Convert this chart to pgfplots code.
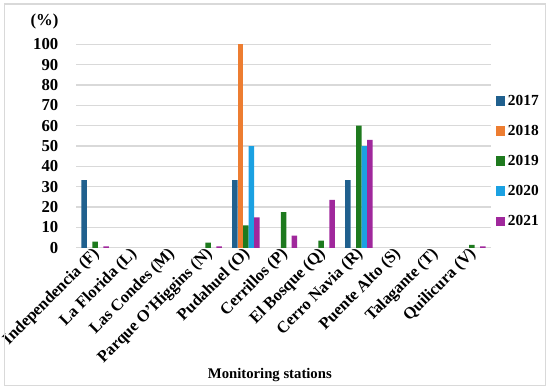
\documentclass[border=0pt]{standalone}
\usepackage{fontspec}
\setmainfont{Liberation Serif}
\usepackage{pgfplots}
\pgfplotsset{compat=1.18}
\definecolor{cA}{HTML}{20608E}
\definecolor{cB}{HTML}{ED7D31}
\definecolor{cC}{HTML}{1E7A1E}
\definecolor{cD}{HTML}{1BA1E2}
\definecolor{cE}{HTML}{A0289C}
\definecolor{gridc}{HTML}{D9D9D9}
\begin{document}
\begin{tikzpicture}
\begin{axis}[
  scale only axis,
  width=309.75pt, height=152.25pt,
  ybar=0pt, bar width=4.1pt,
  xmin=-0.5, xmax=10.5, ymin=0, ymax=100,
  clip=false,
  axis line style={draw=none},
  major tick length=0pt,
  ymajorgrids, grid style={gridc, line width=0.9pt},
  ytick={0,10,...,100},
  xtick={0,...,10},
  xticklabels={Independencia (F),La Florida (L),Las Condes (M),Parque O'Higgins (N),Pudahuel (O),Cerrillos (P),El Bosque (Q),Cerro Navia (R),Puente Alto (S),Talagante (T),Quilicura (V)},
  /pgf/number format/assume math mode=true,
  yticklabel style={font=\fontsize{12.5}{14}\selectfont\bfseries, xshift=-10pt},
  xticklabel style={font=\fontsize{12.3}{14}\selectfont\bfseries, rotate=45, anchor=east, inner sep=1pt, yshift=-3pt},
  xlabel={Monitoring stations},
  every axis x label/.style={at={(0.467,-0.626)}, anchor=center, font=\fontsize{11}{12}\selectfont\bfseries},
  legend style={at={(1.012,0.765)}, anchor=north west, draw=none, fill=none,
    font=\fontsize{11.5}{13}\selectfont\bfseries, row sep=9.3pt, inner sep=0pt},
  legend image code/.code={\fill[#1] (0pt,-3.5pt) rectangle (7pt,3.5pt);},
  legend cell align=left,
]
\addplot[fill=cA, draw=none] coordinates {(0,33.3) (4,33.3) (7,33.3)};
\addplot[fill=cB, draw=none] coordinates {(4,100)};
\addplot[fill=cC, draw=none] coordinates {(0,3) (3,2.5) (4,11) (5,17.5) (6,3.5) (7,60) (10,1.5)};
\addplot[fill=cD, draw=none] coordinates {(4,50) (7,50)};
\addplot[fill=cE, draw=none] coordinates {(0,0.7) (3,0.7) (4,15) (5,6) (6,23.5) (7,53) (10,0.7)};
\legend{2017,2018,2019,2020,2021}
\node[font=\fontsize{12.5}{14}\selectfont\bfseries] at (rel axis cs:-0.077,1.113) {(\%)};
\draw[gridc, line width=0.9pt] (rel axis cs:-0.1743,-0.675) rectangle (rel axis cs:1.1332,1.197);
\coordinate (fsw) at (rel axis cs:-0.1843,-0.695);
\coordinate (fne) at (rel axis cs:1.1432,1.217);
\end{axis}
\pgfresetboundingbox
\path[use as bounding box] (fsw) rectangle (fne);
\end{tikzpicture}
\end{document}
